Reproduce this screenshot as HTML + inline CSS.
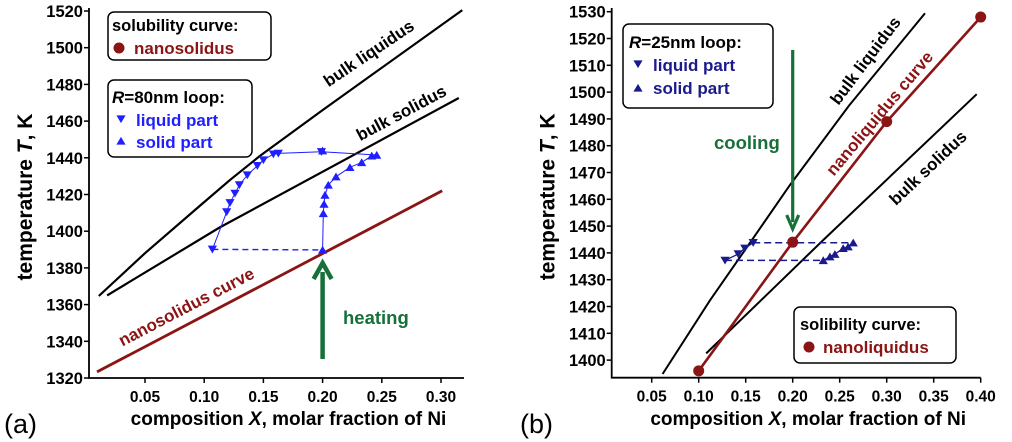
<!DOCTYPE html>
<html><head><meta charset="utf-8"><style>
html,body{margin:0;padding:0;background:#fff;}
svg{display:block;font-family:"Liberation Sans",Arial,sans-serif;}
</style></head><body>
<svg id="fig" width="1012" height="442" viewBox="0 0 1012 442" xmlns="http://www.w3.org/2000/svg">
<g id="pa"></g>
<g id="pb"></g>
</svg>
<script>
// ---- Panel (a) data ----
const aXTicks = [0.05,0.10,0.15,0.20,0.25,0.30];
const aXTickLabels = ["0.05","0.10","0.15","0.20","0.25","0.30"];
const aYTicks = [1320,1340,1360,1380,1400,1420,1440,1460,1480,1500,1520];
const aLiqX = [0.011,0.05,0.0966,0.122,0.147,0.2,0.318];
const aLiqT = [1364.7,1388,1414,1428,1441,1466,1520.5];
const aSolX = [0.018,0.113,0.315];
const aSolT = [1365,1402,1472.6];
const aNanoX = [0.0095,0.301];
const aNanoT = [1323.3,1422];
const aLoopLiqX = [0.1069,0.119,0.1218,0.126,0.1297,0.1364,0.1449,0.15,0.1584,0.1626,0.199];
const aLoopLiqT = [1390.1,1410.5,1415.5,1420.6,1425.2,1430.6,1435.7,1438.8,1442,1442.4,1443.3];
const aLoopSolX = [0.2,0.2006,0.2012,0.202,0.2048,0.2113,0.2231,0.233,0.2415,0.2457];
const aLoopSolT = [1389.8,1409.7,1414.8,1419.7,1425.2,1429.7,1434.8,1437.5,1441.1,1441.5];
// ---- Panel (b) data ----
const bXTicks = [0.05,0.10,0.15,0.20,0.25,0.30,0.35,0.40];
const bXTickLabels = ["0.05","0.10","0.15","0.20","0.25","0.30","0.35","0.40"];
const bYTicks = [1400,1410,1420,1430,1440,1450,1460,1470,1480,1490,1500,1510,1520,1530];
const bLiqX = [0.0616,0.112,0.155,0.197,0.26,0.3407];
const bLiqT = [1394.8,1422.3,1444,1465.3,1495,1529.4];
const bSolX = [0.108,0.2326,0.3957];
const bSolT = [1402.5,1444.8,1499.2];
const bNanoX = [0.1,0.2,0.3,0.4];
const bNanoT = [1396,1444,1489,1528];
const bLoopLiqX = [0.128,0.142,0.149,0.158];
const bLoopLiqT = [1437.2,1439.6,1441.7,1443.8];
const bLoopSolX = [0.2325,0.2396,0.2449,0.2537,0.259,0.2644];
const bLoopSolT = [1437.2,1438.6,1439.5,1441.7,1442.3,1443.8];

const NS="http://www.w3.org/2000/svg";
function mk(parent,tag,attrs,text){const e=document.createElementNS(NS,tag);for(const k in attrs)e.setAttribute(k,attrs[k]);if(text!==undefined)e.textContent=text;parent.appendChild(e);return e;}
const RED="#8b1414", GREEN="#17703a";

const ax=v=>85.8+v*1184, ay=t=>11+(1520-t)*1.835;
const bx=v=>604.7+v*940, by=t=>11.7+(1530-t)*2.68;

function path(xs,ts,fx,fy){return xs.map((v,i)=>(i?'L':'M')+fx(v).toFixed(1)+' '+fy(ts[i]).toFixed(1)).join(' ');}
function tri(g,x,y,down,col,name){
  const s=4.6;
  const d=down?`M${x-s} ${y-s*0.8} L${x+s} ${y-s*0.8} L${x} ${y+s*0.9} Z`:`M${x-s} ${y+s*0.8} L${x+s} ${y+s*0.8} L${x} ${y-s*0.9} Z`;
  const p=mk(g,'path',{d:d,fill:col});
  
  
}

function axes(g,x0,x1,y0,yTop,xt,xtl,yt,fx,fy,letter,lx){
  const a=mk(g,'path',{d:`M${x0} ${yTop} L${x0} ${y0} L${x1} ${y0}`,stroke:'#000','stroke-width':1.8,fill:'none'});
  
  yt.forEach(t=>{const y=fy(t);
    const l=mk(g,'line',{x1:x0-5,y1:y,x2:x0,y2:y,stroke:'#000','stroke-width':1.5});
    
    const tx=mk(g,'text',{x:x0-6,y:y+6,'text-anchor':'end','font-size':16.5,'font-weight':'bold'},String(t));
    });
  xt.forEach((v,i)=>{const x=fx(v);
    const l=mk(g,'line',{x1:x,y1:y0,x2:x,y2:y0+5,stroke:'#000','stroke-width':1.5});
    
    const tx=mk(g,'text',{x:x,y:y0+24,'text-anchor':'middle','font-size':15.5,'font-weight':'bold'},xtl[i]);
    });
  const xl=mk(g,'text',{x:(x0+x1)/2+12,y:425,'text-anchor':'middle','font-size':19,'font-weight':'bold'},'');
  xl.innerHTML='composition <tspan font-style="italic">X</tspan>, molar fraction of Ni';
  
  const yl=mk(g,'text',{x:0,y:0,'text-anchor':'middle','font-size':21,'font-weight':'bold',transform:`translate(${x0-57},${(yTop+y0)/2+4}) rotate(-90)`},'');
  yl.innerHTML='temperature <tspan font-style="italic">T</tspan>, K';
  
  const lt=mk(g,'text',{x:lx,y:433,'font-size':27},letter);
  
}
function label(g,txt,x,y,ang,col,size,name){
  const t=mk(g,'text',{x:0,y:0,'text-anchor':'middle','font-size':size,'font-weight':'bold',fill:col,transform:`translate(${x},${y}) rotate(${ang})`},txt);
  
}
function box(g,x,y,w,h,name){const r=mk(g,'rect',{x:x,y:y,width:w,height:h,rx:6,fill:'#fff',stroke:'#000','stroke-width':1.5});
  }
function txt(g,x,y,s,col,size,name){const t=mk(g,'text',{x:x,y:y,'font-size':size,'font-weight':'bold',fill:col},'');t.innerHTML=s;
  }
function line(g,d,col,w,name,dash){const p=mk(g,'path',{d:d,stroke:col,'stroke-width':w,fill:'none','stroke-linejoin':'round'});if(dash)p.setAttribute('stroke-dasharray',dash);
  return p;}

// ===== Panel A =====
const A=document.getElementById('pa');
axes(A,89,464,378,8,aXTicks,aXTickLabels,aYTicks,ax,ay,'(a)',4);
line(A,path(aLiqX,aLiqT,ax,ay),'#000',2.2,'bulk-liquidus-line');
line(A,path(aSolX,aSolT,ax,ay),'#000',2.2,'bulk-solidus-line');
line(A,path(aNanoX,aNanoT,ax,ay),RED,2.8,'nanosolidus-line');
const BL="#1f1fff";
line(A,path(aLoopLiqX,aLoopLiqT,ax,ay)+' L'+ax(aLoopSolX[aLoopSolX.length-1])+' '+ay(aLoopSolT[aLoopSolT.length-1]),BL,1,'loop-liquid-line');
line(A,path(aLoopSolX,aLoopSolT,ax,ay),BL,1,'loop-solid-line');
line(A,`M${ax(aLoopLiqX[0])} ${ay(aLoopLiqT[0])} L${ax(aLoopSolX[0])} ${ay(aLoopSolT[0])}`,BL,1.4,'loop-dashed-line','6,4');
aLoopLiqX.forEach((v,i)=>tri(A,ax(v),ay(aLoopLiqT[i]),true,BL,'liquid-point'));
aLoopSolX.forEach((v,i)=>tri(A,ax(v),ay(aLoopSolT[i]),false,BL,'solid-point'));
tri(A,ax(0.2),ay(1443.3)-1,false,BL,'solid-point');
line(A,`M${ax(0.2)} 359 L${ax(0.2)} 272`,GREEN,4.5,'heating-arrow-shaft');
const ah=mk(A,'path',{d:`M${ax(0.2)-9} 279 L${ax(0.2)} 263 L${ax(0.2)+9} 279`,stroke:GREEN,'stroke-width':4.5,fill:'none'});

txt(A,343,324,'heating',GREEN,18.5,'heating-label');
label(A,'bulk liquidus',372,58,-34,'#000',17,'bulk-liquidus-label');
label(A,'bulk solidus',404,118,-28,'#000',17,'bulk-solidus-label');
label(A,'nanosolidus curve',189,312,-27.5,RED,17,'nanosolidus-curve-label');
box(A,108,12,163,48,'legend-solubility');
txt(A,112,31,'solubility curve:','#000',16.5,'legend-title');
const c1=mk(A,'circle',{cx:119,cy:48,r:5.5,fill:RED});
txt(A,134,54,'nanosolidus',RED,17,'legend-entry-nanosolidus');
box(A,108,80,144,77,'legend-loop');
txt(A,112,103,'<tspan font-style="italic">R</tspan>=80nm loop:','#000',17,'legend-title');
tri(A,121,119,true,BL,'legend-marker-liquid');
txt(A,136,126,'liquid part',BL,17,'legend-entry-liquid');
tri(A,121,141,false,BL,'legend-marker-solid');
txt(A,136,148,'solid part',BL,17,'legend-entry-solid');

// ===== Panel B =====
const B=document.getElementById('pb');
axes(B,611.7,980.7,377.7,8,bXTicks,bXTickLabels,bYTicks,bx,by,'(b)',520);
const NB="#1a1a8c";
line(B,path(bLiqX,bLiqT,bx,by),'#000',2,'bulk-liquidus-line');
line(B,path(bSolX,bSolT,bx,by),'#000',2,'bulk-solidus-line');
line(B,path(bNanoX,bNanoT,bx,by),RED,2.6,'nanoliquidus-line');
line(B,`M${bx(bLoopLiqX[3])} ${by(bLoopLiqT[3])} L${bx(bLoopSolX[5])} ${by(bLoopSolT[5])}`,NB,1.5,'loop-dashed-top','7,4');
line(B,`M${bx(bLoopLiqX[0])} ${by(bLoopLiqT[0])} L${bx(bLoopSolX[0])} ${by(bLoopSolT[0])}`,NB,1.5,'loop-dashed-bottom','7,4');
line(B,path(bLoopLiqX,bLoopLiqT,bx,by),NB,1.3,'loop-liquid-line');
line(B,path(bLoopSolX,bLoopSolT,bx,by),NB,1.3,'loop-solid-line');
bLoopLiqX.forEach((v,i)=>tri(B,bx(v),by(bLoopLiqT[i]),true,NB,'liquid-point'));
bLoopSolX.forEach((v,i)=>tri(B,bx(v),by(bLoopSolT[i]),false,NB,'solid-point'));
bNanoX.forEach((v,i)=>{const c=mk(B,'circle',{cx:bx(v),cy:by(bNanoT[i]),r:5.5,fill:RED});
  });
line(B,`M${bx(0.2)} 50 L${bx(0.2)} 222`,GREEN,3.2,'cooling-arrow-shaft');
const bh=mk(B,'path',{d:`M${bx(0.2)-6} 215 L${bx(0.2)} 229 L${bx(0.2)+6} 215`,stroke:GREEN,'stroke-width':3.2,fill:'none'});

txt(B,714,149,'cooling',GREEN,18.5,'cooling-label');
label(B,'bulk liquidus',870,64,-53,'#000',17,'bulk-liquidus-label');
label(B,'nanoliquidus curve',884,117,-50,RED,17,'nanoliquidus-curve-label');
label(B,'bulk solidus',932,172,-43.5,'#000',17,'bulk-solidus-label');
box(B,623,24,150,84,'legend-loop');
txt(B,629,48,'<tspan font-style="italic">R</tspan>=25nm loop:','#000',17,'legend-title');
tri(B,638,64,true,NB,'legend-marker-liquid');
txt(B,653,71,'liquid part',NB,17,'legend-entry-liquid');
tri(B,638,88,false,NB,'legend-marker-solid');
txt(B,653,94,'solid part',NB,17,'legend-entry-solid');
box(B,794,307,162,56,'legend-solubility');
txt(B,800,330,'solibility curve:','#000',16.5,'legend-title');
const c2=mk(B,'circle',{cx:809,cy:347,r:5.5,fill:RED});
txt(B,823,353,'nanoliquidus',RED,17,'legend-entry-nanoliquidus');
</script>
</body></html>
